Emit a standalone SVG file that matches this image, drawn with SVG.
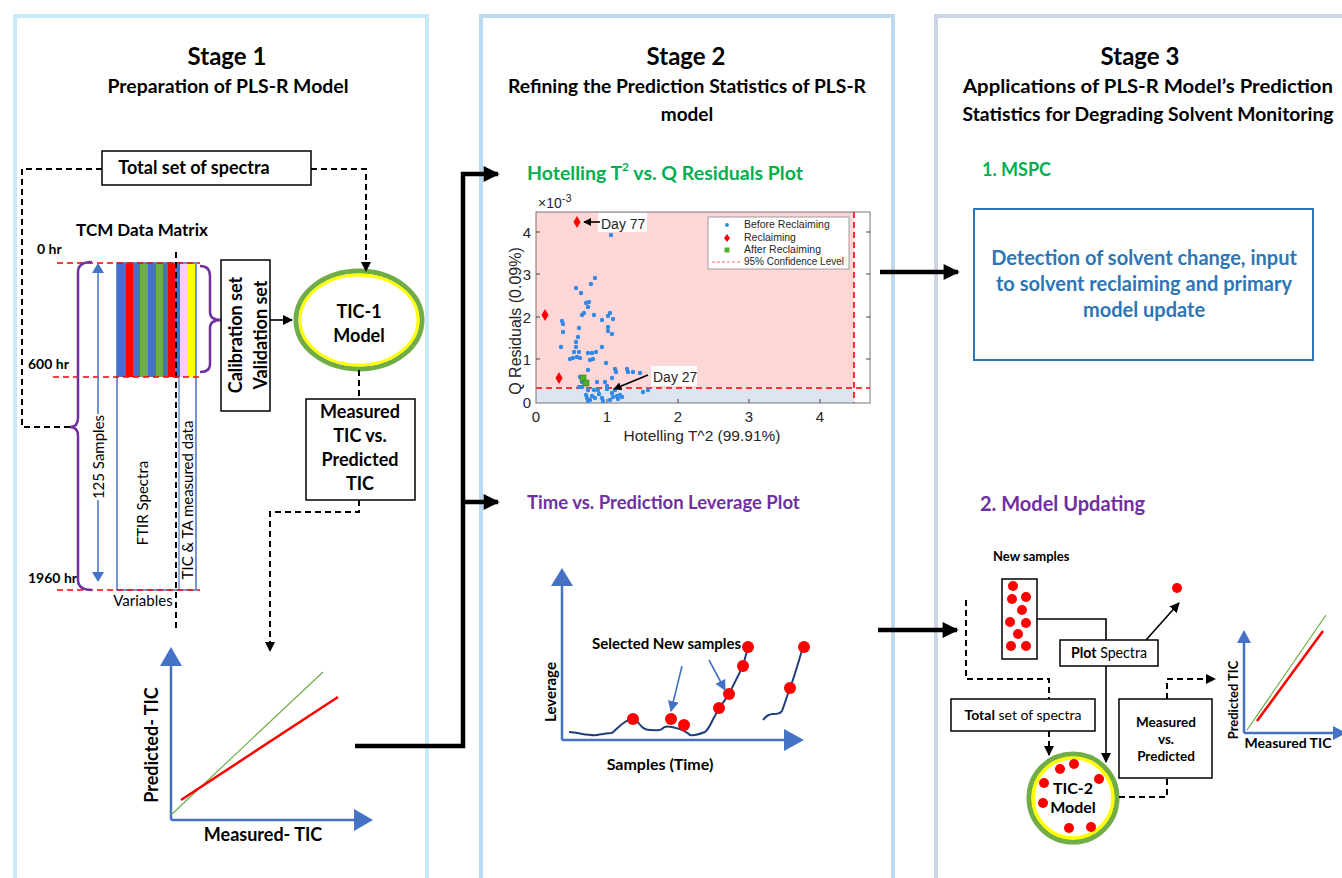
<svg xmlns="http://www.w3.org/2000/svg" width="1342" height="878" viewBox="0 0 1342 878">
  <style>
    .cal { font-family: Lato, "Open Sans", "Liberation Sans", sans-serif; fill: #000; }
    .b { font-weight: bold; }
    .ari { font-family: "Liberation Sans", Arial, sans-serif; fill: #262626; }
    .frame { fill: none; stroke-width: 4; }
    .box { fill: #fff; stroke: #000; stroke-width: 1.5; }
    .dash { fill: none; stroke: #000; stroke-width: 2; stroke-dasharray: 6 4; }
    .thin { fill: none; stroke: #000; stroke-width: 1.6; }
    .thick { fill: none; stroke: #000; stroke-width: 4.5; }
    .purple { fill: none; stroke: #7030a0; stroke-width: 2.5; }
    .rdash { fill: none; stroke: #ff0000; stroke-width: 1.6; stroke-dasharray: 6 4; }
    .axis { fill: none; stroke: #4472c4; stroke-width: 2.5; }
    .tri { fill: #4472c4; }
    .rd { fill: #ff0000; }
    .bd { fill: #338ae6; }
  </style>
  <defs>
    <marker id="ah" viewBox="0 0 10 10" refX="9" refY="5" markerWidth="10" markerHeight="10" markerUnits="userSpaceOnUse" orient="auto">
      <path d="M0,0 L10,5 L0,10 z" fill="#000"/>
    </marker>
    <marker id="ahBig" viewBox="0 0 10 10" refX="9" refY="5" markerWidth="18" markerHeight="16" markerUnits="userSpaceOnUse" orient="auto">
      <path d="M0,0 L10,5 L0,10 z" fill="#000"/>
    </marker>
    <marker id="ahBlue" viewBox="0 0 10 10" refX="9" refY="5" markerWidth="11" markerHeight="11" markerUnits="userSpaceOnUse" orient="auto">
      <path d="M0,0 L10,5 L0,10 z" fill="#4472c4"/>
    </marker>
    <marker id="ahSm" viewBox="0 0 10 10" refX="9" refY="5" markerWidth="8" markerHeight="8" markerUnits="userSpaceOnUse" orient="auto">
      <path d="M0,0 L10,5 L0,10 z" fill="#000"/>
    </marker>
  </defs>

  <rect width="1342" height="878" fill="#fff"/>

  <!-- stage frames -->
  <g id="frames">
    <rect class="frame" x="15" y="16" width="412" height="900" stroke="#c5eaf9"/>
    <rect class="frame" x="481" y="16" width="412" height="900" stroke="#bdd9ef"/>
    <rect class="frame" x="936" y="16" width="460" height="900" stroke="#cdd5e7"/>
  </g>

  <!-- stage headings -->
  <g id="headings" class="cal b" text-anchor="middle">
    <text x="227" y="65" font-size="24">Stage 1</text>
    <text x="228" y="93" font-size="19" textLength="241" lengthAdjust="spacingAndGlyphs">Preparation of PLS-R Model</text>
    <text x="686" y="65" font-size="24">Stage 2</text>
    <text x="687" y="93" font-size="19" textLength="358" lengthAdjust="spacingAndGlyphs">Refining the Prediction Statistics of PLS-R</text>
    <text x="687" y="121" font-size="19">model</text>
    <text x="1140" y="65" font-size="24">Stage 3</text>
    <text x="1148" y="93" font-size="19" textLength="370" lengthAdjust="spacingAndGlyphs">Applications of PLS-R Model’s Prediction</text>
    <text x="1148" y="121" font-size="19" textLength="371" lengthAdjust="spacingAndGlyphs">Statistics for Degrading Solvent Monitoring</text>
  </g>

  <!-- ===== Stage 1 ===== -->
  <g id="total-spectra-1">
    <rect class="box" x="102" y="151" width="209" height="34"/>
    <text class="cal b" x="194" y="174" font-size="18" text-anchor="middle">Total set of spectra</text>
  </g>

  <g id="data-matrix">
    <text class="cal b" x="142" y="236" font-size="17" text-anchor="middle">TCM Data Matrix</text>
    <text class="cal b" x="37" y="254" font-size="14">0 hr</text>
    <text class="cal b" x="28" y="369" font-size="14">600 hr</text>
    <text class="cal b" x="28" y="583" font-size="14">1960 hr</text>
    <!-- spectra stripes (calibration block) -->
    <rect x="117" y="263" width="9" height="114" fill="#4472c4"/>
    <rect x="126" y="263" width="7" height="114" fill="#ff0000"/>
    <rect x="133" y="263" width="7" height="114" fill="#4472c4"/>
    <rect x="140" y="263" width="8" height="114" fill="#70ad47"/>
    <rect x="148" y="263" width="8" height="114" fill="#4472c4"/>
    <rect x="156" y="263" width="7" height="114" fill="#70ad47"/>
    <rect x="163" y="263" width="5" height="114" fill="#4472c4"/>
    <rect x="168" y="263" width="7" height="114" fill="#ff0000"/>
    <rect x="175" y="263" width="5" height="114" fill="#4472c4"/>
    <rect x="180" y="263" width="8" height="114" fill="#ffccff"/>
    <rect x="188" y="263" width="8" height="114" fill="#ffff00"/>
    <rect x="117" y="263" width="79" height="327" fill="none" stroke="#4472c4" stroke-width="1.5"/>
    <line x1="179" y1="263" x2="179" y2="590" stroke="#4472c4" stroke-width="1.2"/>
    <line class="dash" x1="176" y1="252" x2="176" y2="630" stroke-width="1.8"/>
    <!-- time marks -->
    <line class="rdash" x1="57" y1="263" x2="200" y2="263"/>
    <line class="rdash" x1="53" y1="377" x2="200" y2="377"/>
    <line class="rdash" x1="57" y1="590" x2="200" y2="590"/>
    <!-- braces -->
    <path class="purple" d="M92,262 Q78,262 78,272 L78,418 Q78,427 70,427 Q78,427 78,436 L78,580 Q78,590 92,590"/>
    <path class="purple" d="M200,266 Q210,266 210,276 L210,312 Q210,320 221,320 Q210,320 210,328 L210,364 Q210,372 200,372"/>
    <!-- sample count arrow -->
    <line x1="98" y1="272" x2="98" y2="414" stroke="#4472c4" stroke-width="1.5"/>
    <line x1="98" y1="500" x2="98" y2="573" stroke="#4472c4" stroke-width="1.5"/>
    <polygon class="tri" points="98,263 92,273 104,273"/>
    <polygon class="tri" points="98,582 92,572 104,572"/>
    <text class="cal" x="104" y="457" font-size="15" text-anchor="middle" transform="rotate(-90 104 457)">125 Samples</text>
    <text class="cal" x="148" y="503" font-size="15" text-anchor="middle" transform="rotate(-90 148 503)">FTIR Spectra</text>
    <text class="cal" x="193" y="500" font-size="15" text-anchor="middle" transform="rotate(-90 193 500)">TIC &amp; TA measured data</text>
    <text class="cal" x="143" y="606" font-size="15" text-anchor="middle">Variables</text>
  </g>

  <g id="cal-val-sets">
    <rect class="box" x="221" y="260" width="49" height="151"/>
    <g class="cal b" font-size="18" text-anchor="middle">
      <text x="242" y="335" transform="rotate(-90 242 335)">Calibration set</text>
      <text x="267" y="335" transform="rotate(-90 267 335)">Validation set</text>
    </g>
  </g>

  <g id="tic1-model">
    <ellipse cx="359" cy="320" rx="63" ry="49" fill="#fff" stroke="#70ad47" stroke-width="5"/>
    <ellipse cx="359" cy="320" rx="59" ry="45" fill="none" stroke="#ffff00" stroke-width="3"/>
    <text class="cal b" x="359" y="318" font-size="18" text-anchor="middle">TIC-1</text>
    <text class="cal b" x="359" y="342" font-size="18" text-anchor="middle">Model</text>
  </g>

  <g id="measured-vs-predicted-1">
    <rect class="box" x="306" y="399" width="109" height="101"/>
    <g class="cal b" font-size="18" text-anchor="middle">
      <text x="360" y="418">Measured</text>
      <text x="360" y="442">TIC vs.</text>
      <text x="360" y="466">Predicted</text>
      <text x="360" y="490">TIC</text>
    </g>
  </g>

  <g id="tic-chart-1">
    <line class="axis" x1="171" y1="820" x2="171" y2="660"/>
    <line class="axis" x1="171" y1="820" x2="358" y2="820"/>
    <polygon class="tri" points="171,647 160,666 182,666"/>
    <polygon class="tri" points="373,820 354,809 354,831"/>
    <line x1="171" y1="815" x2="323" y2="672" stroke="#70ad47" stroke-width="1.2"/>
    <line x1="181" y1="800" x2="338" y2="697" stroke="#ff0000" stroke-width="2.5"/>
    <text class="cal b" x="158" y="745" font-size="18" text-anchor="middle" transform="rotate(-90 158 745)">Predicted- TIC</text>
    <text class="cal b" x="263" y="841" font-size="18" text-anchor="middle">Measured- TIC</text>
  </g>

  <!-- ===== Stage 2 ===== -->
  <g id="hotelling-plot">
    <text class="b" x="527" y="180" font-size="19.5" fill="#00b050" font-family="Lato, 'Open Sans', sans-serif">Hotelling T<tspan dy="-9" font-size="12">2</tspan><tspan dy="9"> vs. Q Residuals Plot</tspan></text>
    <rect x="536" y="212" width="334" height="191" fill="#fff"/>
    <rect x="536" y="212" width="318" height="176" fill="#ffd7d7"/>
    <rect x="536" y="388" width="318" height="15" fill="#dfe5f0"/>
    <line class="rdash" x1="536" y1="388" x2="870" y2="388" stroke-width="1.2" stroke-dasharray="4 3"/>
    <line class="rdash" x1="854" y1="212" x2="854" y2="403" stroke-width="1.2" stroke-dasharray="4 3"/>
    <rect x="536" y="212" width="334" height="191" fill="none" stroke="#777" stroke-width="1"/>
    <!-- ticks -->
    <g stroke="#444" stroke-width="1">
      <line x1="607" y1="403" x2="607" y2="399"/><line x1="678" y1="403" x2="678" y2="399"/>
      <line x1="749" y1="403" x2="749" y2="399"/><line x1="820" y1="403" x2="820" y2="399"/>
      <line x1="536" y1="359" x2="540" y2="359"/><line x1="536" y1="317" x2="540" y2="317"/>
      <line x1="536" y1="274" x2="540" y2="274"/><line x1="536" y1="232" x2="540" y2="232"/>
      <line x1="870" y1="359" x2="866" y2="359"/><line x1="870" y1="317" x2="866" y2="317"/>
      <line x1="870" y1="274" x2="866" y2="274"/><line x1="870" y1="232" x2="866" y2="232"/>
    </g>
    <g class="ari" font-size="15">
      <text x="531" y="408" text-anchor="end">0</text>
      <text x="531" y="365" text-anchor="end">1</text>
      <text x="531" y="323" text-anchor="end">2</text>
      <text x="531" y="280" text-anchor="end">3</text>
      <text x="531" y="238" text-anchor="end">4</text>
      <text x="536" y="422" text-anchor="middle">0</text>
      <text x="607" y="422" text-anchor="middle">1</text>
      <text x="678" y="422" text-anchor="middle">2</text>
      <text x="749" y="422" text-anchor="middle">3</text>
      <text x="820" y="422" text-anchor="middle">4</text>
      <text x="538" y="208" font-size="14">×10<tspan dy="-6" font-size="11">-3</tspan></text>
      <text x="702" y="441" font-size="15.5" text-anchor="middle">Hotelling T^2 (99.91%)</text>
      <text x="521" y="321" font-size="16" text-anchor="middle" transform="rotate(-90 521 321)">Q Residuals (0.09%)</text>
    </g>
    <!-- scores -->
    <g class="bd">
      <circle cx="611" cy="235" r="2.2"/><circle cx="595" cy="278" r="2.2"/><circle cx="591" cy="284" r="2.2"/>
      <circle cx="576" cy="288" r="2.2"/><circle cx="581" cy="293" r="2.2"/><circle cx="586" cy="303" r="2.2"/>
      <circle cx="588" cy="307" r="2.2"/><circle cx="589" cy="302" r="2.2"/><circle cx="584" cy="313" r="2.2"/>
      <circle cx="582" cy="315" r="2.2"/><circle cx="594" cy="315" r="2.2"/><circle cx="610" cy="313" r="2.2"/>
      <circle cx="608" cy="316" r="2.2"/><circle cx="613" cy="319" r="2.2"/><circle cx="602" cy="320" r="2.2"/>
      <circle cx="608" cy="327" r="2.2"/><circle cx="608" cy="331" r="2.2"/><circle cx="612" cy="334" r="2.2"/>
      <circle cx="562" cy="321" r="2.2"/><circle cx="563" cy="324" r="2.2"/><circle cx="563" cy="332" r="2.2"/>
      <circle cx="579" cy="328" r="2.2"/><circle cx="578" cy="337" r="2.2"/><circle cx="576" cy="342" r="2.2"/>
      <circle cx="576" cy="347" r="2.2"/><circle cx="574" cy="352" r="2.2"/><circle cx="579" cy="352" r="2.2"/>
      <circle cx="577" cy="357" r="2.2"/><circle cx="573" cy="358" r="2.2"/><circle cx="580" cy="358" r="2.2"/>
      <circle cx="570" cy="359" r="2.2"/><circle cx="592" cy="353" r="2.2"/><circle cx="588" cy="353" r="2.2"/>
      <circle cx="596" cy="352" r="2.2"/><circle cx="590" cy="360" r="2.2"/><circle cx="593" cy="359" r="2.2"/>
      <circle cx="561" cy="347" r="2.2"/><circle cx="588" cy="370" r="2.2"/><circle cx="606" cy="363" r="2.2"/>
      <circle cx="602" cy="347" r="2.2"/><circle cx="615" cy="369" r="2.2"/><circle cx="616" cy="372" r="2.2"/>
      <circle cx="627" cy="369" r="2.2"/><circle cx="628" cy="372" r="2.2"/><circle cx="633" cy="372" r="2.2"/>
      <circle cx="640" cy="373" r="2.2"/><circle cx="612" cy="378" r="2.2"/><circle cx="605" cy="382" r="2.2"/>
      <circle cx="597" cy="382" r="2.2"/><circle cx="594" cy="390" r="2.2"/><circle cx="598" cy="390" r="2.2"/>
      <circle cx="582" cy="387" r="2.2"/><circle cx="579" cy="387" r="2.2"/><circle cx="588" cy="390" r="2.2"/>
      <circle cx="586" cy="395" r="2.2"/><circle cx="587" cy="398" r="2.2"/><circle cx="590" cy="400" r="2.2"/>
      <circle cx="588" cy="401" r="2.2"/><circle cx="595" cy="398" r="2.2"/><circle cx="602" cy="398" r="2.2"/>
      <circle cx="603" cy="401" r="2.2"/><circle cx="610" cy="400" r="2.2"/><circle cx="613" cy="397" r="2.2"/>
      <circle cx="617" cy="396" r="2.2"/><circle cx="620" cy="395" r="2.2"/><circle cx="622" cy="397" r="2.2"/>
      <circle cx="615" cy="390" r="2.2"/><circle cx="607" cy="389" r="2.2"/><circle cx="612" cy="393" r="2.2"/>
      <circle cx="643" cy="392" r="2.2"/><circle cx="648" cy="390" r="2.2"/><circle cx="607" cy="386" r="2.2"/>
      <circle cx="580" cy="377" r="2.2"/><circle cx="582" cy="382" r="2.2"/><circle cx="585" cy="383" r="2.2"/>
      <circle cx="592" cy="396" r="2.2"/><circle cx="599" cy="394" r="2.2"/><circle cx="618" cy="399" r="2.2"/>
    </g>
    <g class="rd">
      <polygon points="577,216 580.5,222 577,228 573.5,222"/>
      <polygon points="545,309 548.5,315 545,321 541.5,315"/>
      <polygon points="559,372 562.5,378 559,384 555.5,378"/>
    </g>
    <g fill="#4cb02c" stroke="#2e7d1a" stroke-width="0.6">
      <rect x="580" y="375" width="6" height="6"/>
      <rect x="583" y="380" width="6" height="6"/>
    </g>
    <!-- legend -->
    <rect x="708" y="217" width="141" height="52" fill="#fff" stroke="#888" stroke-width="0.8"/>
    <circle class="bd" cx="727" cy="225" r="2"/>
    <polygon class="rd" points="727,234 730,238 727,242 724,238"/>
    <rect x="724.5" y="247.5" width="5" height="5" fill="#4cb02c"/>
    <line x1="712" y1="262" x2="742" y2="262" stroke="#ff6a5a" stroke-width="1" stroke-dasharray="3 2"/>
    <g class="ari" font-size="10.5">
      <text x="744" y="228">Before Reclaiming</text>
      <text x="744" y="241">Reclaiming</text>
      <text x="744" y="253">After Reclaiming</text>
      <text x="744" y="265" textLength="100" lengthAdjust="spacingAndGlyphs">95% Confidence Level</text>
    </g>
    <!-- annotations -->
    <rect x="598" y="213" width="49" height="19" fill="#fff"/>
    <text class="ari" x="601" y="229" font-size="14" fill="#000">Day 77</text>
    <line class="thin" x1="600" y1="222" x2="584" y2="222" marker-end="url(#ahSm)"/>
    <rect x="651" y="366" width="46" height="20" fill="#fff"/>
    <text class="ari" x="653" y="382" font-size="14" fill="#000">Day 27</text>
    <line class="thin" x1="648" y1="375" x2="614" y2="389" marker-end="url(#ahSm)"/>
  </g>

  <g id="leverage-plot">
    <text class="cal b" x="527" y="509" font-size="18.5" style="fill:#7030a0">Time vs. Prediction Leverage Plot</text>
    <line class="axis" x1="562" y1="740" x2="562" y2="583"/>
    <line class="axis" x1="562" y1="740" x2="786" y2="740"/>
    <polygon class="tri" points="562,568 551,586 573,586"/>
    <polygon class="tri" points="804,740 784,729 784,751"/>
    <path d="M569,732 C580,733 590,736 597,735 S608,733 612,733 C617,729 620,725 625,722 S633,717 636,720 C640,724 642,730 650,730 S660,731 662,729 C664,726 668,726 672,727 S684,729 690,735 C695,736 700,734 705,732 C710,728 712,720 716,714 C720,706 725,700 729,694 L743,666 L748,647" fill="none" stroke="#1f3d7a" stroke-width="2"/>
    <path d="M763,720 C766,716 769,714 773,714 S780,714 782,711 C785,703 787,696 790,688 C794,678 799,660 803,647" fill="none" stroke="#1f3d7a" stroke-width="2"/>
    <g class="rd">
      <circle cx="633" cy="719" r="6"/><circle cx="671" cy="719" r="6"/><circle cx="684" cy="725" r="6"/>
      <circle cx="719" cy="708" r="6"/><circle cx="729" cy="694" r="6"/><circle cx="743" cy="666" r="6"/>
      <circle cx="748" cy="647" r="6"/><circle cx="790" cy="688" r="6"/><circle cx="804" cy="647" r="6"/>
    </g>
    <line x1="682" y1="666" x2="671" y2="711" stroke="#4472c4" stroke-width="1.6" marker-end="url(#ahBlue)"/>
    <line x1="709" y1="660" x2="725" y2="690" stroke="#4472c4" stroke-width="1.6" marker-end="url(#ahBlue)"/>
    <text class="cal b" x="592" y="649" font-size="15">Selected New samples</text>
    <text class="cal b" x="556" y="692" font-size="15" text-anchor="middle" transform="rotate(-90 556 692)">Leverage</text>
    <text class="cal b" x="660" y="770" font-size="16" text-anchor="middle">Samples (Time)</text>
  </g>

  <!-- ===== Stage 3 ===== -->
  <g id="mspc">
    <text class="cal b" x="982" y="176" font-size="18" style="fill:#00b050">1. MSPC</text>
    <rect x="974" y="209" width="339" height="151" fill="#fff" stroke="#2e75b6" stroke-width="2"/>
    <g class="cal b" font-size="20" text-anchor="middle" style="fill:#2e75b6">
      <text x="1144" y="265">Detection of solvent change, input</text>
      <text x="1144" y="291">to solvent reclaiming and primary</text>
      <text x="1144" y="317">model update</text>
    </g>
  </g>

  <g id="model-updating">
    <text class="cal b" x="980" y="511" font-size="20" style="fill:#7030a0">2. Model Updating</text>
  </g>

  <g id="new-samples">
    <text class="cal b" x="993" y="561" font-size="13">New samples</text>
    <rect class="box" x="1002" y="579" width="35" height="80"/>
    <g class="rd">
      <circle cx="1013" cy="586" r="5"/><circle cx="1012" cy="599" r="5"/><circle cx="1026" cy="597" r="5"/>
      <circle cx="1022" cy="610" r="5"/><circle cx="1010" cy="622" r="5"/><circle cx="1026" cy="623" r="5"/>
      <circle cx="1018" cy="634" r="5"/><circle cx="1011" cy="646" r="5"/><circle cx="1026" cy="646" r="5"/>
    </g>
  </g>

  <g id="plot-spectra">
    <rect class="box" x="1060" y="640" width="98" height="26"/>
    <text class="cal" x="1109" y="658" font-size="15" text-anchor="middle" textLength="76" lengthAdjust="spacingAndGlyphs"><tspan font-weight="bold">Plot</tspan> Spectra</text>
    <circle class="rd" cx="1177" cy="588" r="5"/>
  </g>

  <g id="total-spectra-2">
    <rect class="box" x="951" y="699" width="144" height="32"/>
    <text class="cal" x="1023" y="720" font-size="14" text-anchor="middle"><tspan font-weight="bold">Total</tspan> set of spectra</text>
  </g>

  <g id="tic2-model">
    <circle cx="1073" cy="798" r="44" fill="#fff" stroke="#70ad47" stroke-width="5"/>
    <circle cx="1073" cy="798" r="40" fill="none" stroke="#ffff00" stroke-width="3.5"/>
    <g class="rd">
      <circle cx="1074" cy="764" r="5"/><circle cx="1060" cy="769" r="5"/><circle cx="1099" cy="779" r="5"/>
      <circle cx="1044" cy="783" r="5"/><circle cx="1043" cy="803" r="5"/><circle cx="1069" cy="828" r="5"/>
      <circle cx="1091" cy="827" r="5"/>
    </g>
    <text class="cal b" x="1073" y="794" font-size="16" text-anchor="middle">TIC-2</text>
    <text class="cal b" x="1073" y="813" font-size="16" text-anchor="middle">Model</text>
  </g>

  <g id="measured-vs-predicted-2">
    <rect class="box" x="1119" y="699" width="93" height="79"/>
    <g class="cal b" font-size="13.5" text-anchor="middle">
      <text x="1166" y="727">Measured</text>
      <text x="1166" y="744">vs.</text>
      <text x="1166" y="761">Predicted</text>
    </g>
  </g>

  <g id="tic-chart-2">
    <line class="axis" x1="1244" y1="733" x2="1244" y2="640"/>
    <line class="axis" x1="1244" y1="733" x2="1334" y2="733"/>
    <polygon class="tri" points="1244,630 1237,643 1251,643"/>
    <polygon class="tri" points="1346,733 1333,726 1333,740"/>
    <line x1="1247" y1="730" x2="1326" y2="615" stroke="#70ad47" stroke-width="1.2"/>
    <line x1="1257" y1="721" x2="1323" y2="631" stroke="#ff0000" stroke-width="2.5"/>
    <text class="cal b" x="1238" y="700" font-size="13" text-anchor="middle" transform="rotate(-90 1238 700)">Predicted TIC</text>
    <text class="cal b" x="1288" y="748" font-size="14" text-anchor="middle">Measured TIC</text>
  </g>

  <!-- connectors -->
  <g id="connectors">
    <!-- stage 1 -->
    <polyline class="dash" points="102,169 22,169 22,427 70,427"/>
    <polyline class="dash" points="311,169 366,169 366,271" marker-end="url(#ah)"/>
    <line class="thin" x1="270" y1="320" x2="292" y2="320" stroke-width="2" marker-end="url(#ah)"/>
    <line class="dash" x1="359" y1="370" x2="359" y2="399"/>
    <polyline class="dash" points="359,500 359,512 270,512 270,651" marker-end="url(#ah)"/>
    <!-- stage 1 to stage 2 -->
    <polyline class="thick" points="355,746 463,746 463,174 498,174" marker-end="url(#ahBig)"/>
    <line class="thick" x1="463" y1="502" x2="498" y2="502" marker-end="url(#ahBig)"/>
    <!-- stage 2 to stage 3 -->
    <line class="thick" x1="880" y1="272" x2="958" y2="272" marker-end="url(#ahBig)"/>
    <line class="thick" x1="878" y1="630" x2="957" y2="630" marker-end="url(#ahBig)"/>
    <!-- stage 3 -->
    <polyline class="thin" points="1037,619 1106,619 1106,640"/>
    <line class="thin" x1="1106" y1="666" x2="1106" y2="762" marker-end="url(#ah)"/>
    <line class="thin" x1="1146" y1="640" x2="1179" y2="603" marker-end="url(#ah)"/>
    <polyline class="dash" points="966,600 966,679 1049,679 1049,699"/>
    <line class="dash" x1="1049" y1="731" x2="1049" y2="755" marker-end="url(#ah)"/>
    <polyline class="dash" points="1119,797 1167,797 1167,778"/>
    <polyline class="dash" points="1167,699 1167,679 1215,679" marker-end="url(#ah)"/>
  </g>
</svg>
